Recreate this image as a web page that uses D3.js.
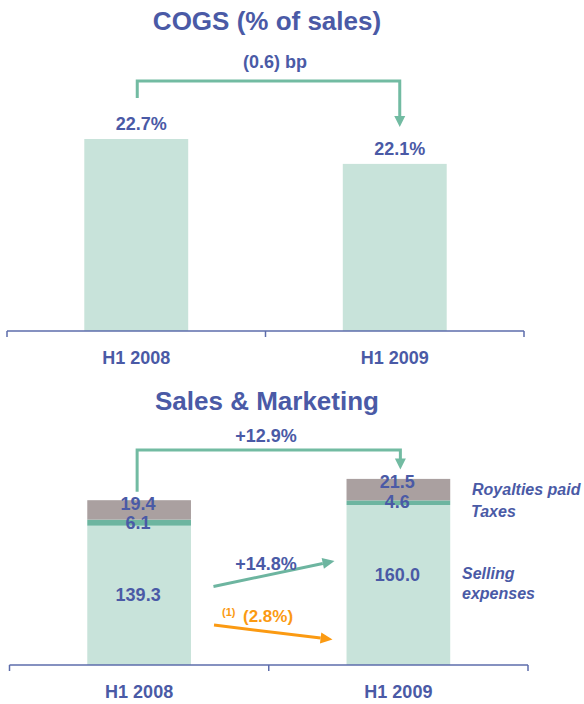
<!DOCTYPE html>
<html>
<head>
<meta charset="utf-8">
<script src="https://cdn.jsdelivr.net/npm/d3@7"></script>
<style>
  html, body { margin: 0; padding: 0; background: #ffffff; }
  svg { display: block; font-family: "Liberation Sans", Arial, sans-serif; }
</style>
</head>
<body>
<svg id="chart" width="584" height="704"></svg>
<script>
// ---- data ----
const periods = ["H1 2008", "H1 2009"];
const cogsPct = [22.7, 22.1];
const cogsChangeLabel = "(0.6) bp";

const sellingExpenses = [139.3, 160.0];
const taxes = [6.1, 4.6];
const royaltiesPaid = [19.4, 21.5];
const seriesNames = ["Selling expenses", "Taxes", "Royalties paid"];
const totalChangeLabel = "+12.9%";
const sellingChangeLabel = "+14.8%";
const adjustedChangeLabel = "(2.8%)";
const adjustedNote = "(1)";

// ---- styles ----
const BLUE = "#4a5aa6";
const LIGHT = "#c8e3da";
const TEAL = "#6db5a0";
const MAUVE = "#aaa0a0";
const BRACKET = "#72bba2";
const ORANGE = "#fb9a12";
const AXIS = "#5d6cab";

const svg = d3.select("#chart");

function drawCategoryAxis(g, x, yAxis) {
  const r = x.range();
  const step = x.step();
  // baseline
  g.append("line")
    .attr("x1", r[0]).attr("x2", r[1])
    .attr("y1", yAxis).attr("y2", yAxis)
    .attr("stroke", AXIS).attr("stroke-width", 1.5);
  // ticks at category boundaries
  const edges = d3.range(periods.length + 1).map(i => r[0] + i * step);
  g.selectAll(".edge").data(edges).join("line")
    .attr("x1", d => d).attr("x2", d => d)
    .attr("y1", yAxis).attr("y2", yAxis + 6)
    .attr("stroke", AXIS).attr("stroke-width", 1.5);
  // category labels
  const ax = g.append("g")
    .attr("transform", `translate(0,${yAxis})`)
    .call(d3.axisBottom(x).tickSize(0).tickPadding(20));
  ax.select(".domain").remove();
  ax.selectAll("text")
    .attr("fill", BLUE)
    .attr("font-size", 18)
    .attr("font-weight", "bold")
    .attr("font-family", "Liberation Sans, Arial, sans-serif");
}

function bracket(g, xa, ya, xb, yb, yTop) {
  g.append("path")
    .attr("d", `M${xa},${ya} V${yTop} H${xb} V${yb - 10}`)
    .attr("fill", "none").attr("stroke", BRACKET).attr("stroke-width", 3);
  g.append("path")
    .attr("d", `M${xb - 5.5},${yb - 11} L${xb + 5.5},${yb - 11} L${xb},${yb} Z`)
    .attr("fill", BRACKET);
}

function arrow(g, x1, y1, x2, y2, color) {
  const ang = Math.atan2(y2 - y1, x2 - x1);
  const len = 12, half = 5.5;
  const bx = x2 - len * Math.cos(ang), by = y2 - len * Math.sin(ang);
  g.append("line")
    .attr("x1", x1).attr("y1", y1).attr("x2", bx).attr("y2", by)
    .attr("stroke", color).attr("stroke-width", 3);
  const px = -Math.sin(ang) * half, py = Math.cos(ang) * half;
  g.append("path")
    .attr("d", `M${x2},${y2} L${bx + px},${by + py} L${bx - px},${by - py} Z`)
    .attr("fill", color);
}

function boldText(g, x, y, txt, size, color, anchor) {
  return g.append("text")
    .attr("x", x).attr("y", y)
    .attr("text-anchor", anchor || "middle")
    .attr("font-size", size).attr("font-weight", "bold")
    .attr("fill", color || BLUE)
    .text(txt);
}

// ================= COGS (% of sales) =================
const cogsG = svg.append("g");
boldText(cogsG, 267, 30, "COGS (% of sales)", 26);

const xTop = d3.scaleBand().domain(periods).range([7, 524])
  .paddingInner(0.598).paddingOuter(0.299);
const yTop = d3.scaleLinear().domain([18.07, 22.7]).range([331, 139]);

cogsG.selectAll(".cogs").data(periods).join("rect")
  .attr("x", d => xTop(d))
  .attr("width", xTop.bandwidth())
  .attr("y", (d, i) => yTop(cogsPct[i]))
  .attr("height", (d, i) => yTop.range()[0] - yTop(cogsPct[i]))
  .attr("fill", LIGHT);

periods.forEach((p, i) => {
  boldText(cogsG, xTop(p) + xTop.bandwidth() / 2 + 5, yTop(cogsPct[i]) - 9,
    cogsPct[i].toFixed(1) + "%", 18);
});

drawCategoryAxis(cogsG, xTop, 331);

{
  const c1 = xTop(periods[0]) + xTop.bandwidth() / 2 + 1;
  const c2 = xTop(periods[1]) + xTop.bandwidth() / 2 + 5;
  bracket(cogsG, c1, yTop(cogsPct[0]) - 41, c2, yTop(cogsPct[1]) - 37, 81);
  boldText(cogsG, 275, 68, cogsChangeLabel, 18);
}

// ================= Sales & Marketing =================
const smG = svg.append("g");
boldText(smG, 267, 410, "Sales & Marketing", 26);

const xBot = d3.scaleBand().domain(periods).range([9.5, 528])
  .paddingInner(0.6).paddingOuter(0.3);
const yBot = d3.scaleLinear().domain([0, 200]).range([665, 465]);

const rows = periods.map((p, i) => ({
  period: p,
  "Selling expenses": sellingExpenses[i],
  "Taxes": taxes[i],
  "Royalties paid": royaltiesPaid[i]
}));
const stacked = d3.stack().keys(seriesNames)(rows);
const colorOf = d3.scaleOrdinal().domain(seriesNames).range([LIGHT, TEAL, MAUVE]);

smG.selectAll(".layer").data(stacked).join("g")
  .attr("fill", d => colorOf(d.key))
  .selectAll("rect").data(d => d).join("rect")
  .attr("x", d => xBot(d.data.period))
  .attr("width", xBot.bandwidth())
  .attr("y", d => yBot(d[1]))
  .attr("height", d => yBot(d[0]) - yBot(d[1]));

drawCategoryAxis(smG, xBot, 665);

// segment value labels
const [selL, taxL, royL] = stacked;
periods.forEach((p, i) => {
  const cx = xBot(p) + xBot.bandwidth() / 2 - 1;
  boldText(smG, cx, yBot(selL[i][1]) + 75.5, sellingExpenses[i].toFixed(1), 18);
  boldText(smG, cx, yBot(taxL[i][0]) + 3, taxes[i].toFixed(1), 18);
  boldText(smG, cx, yBot(royL[i][1]) + 9.5, royaltiesPaid[i].toFixed(1), 18);
});

// series names at the right
function italicLabel(x, y, txt) {
  smG.append("text").attr("x", x).attr("y", y)
    .attr("font-size", 16).attr("font-weight", "bold").attr("font-style", "italic")
    .attr("fill", BLUE).text(txt);
}
italicLabel(472, 495, seriesNames[2]);
italicLabel(471, 517, seriesNames[1]);
italicLabel(462, 579, "Selling");
italicLabel(462, 599, "expenses");

// total change bracket
{
  const c1 = xBot(periods[0]) + xBot.bandwidth() / 2 - 2;
  const c2 = xBot(periods[1]) + xBot.bandwidth() / 2 + 2;
  bracket(smG, c1, yBot(royL[0][1]) - 8.5, c2, yBot(royL[1][1]) - 9.5, 450);
  boldText(smG, 266, 442, totalChangeLabel, 18);
}

// growth arrows between the bars
{
  const r1 = xBot(periods[0]) + xBot.bandwidth();
  const l2 = xBot(periods[1]);
  arrow(smG, r1 + 22.5, 586.5, l2 - 12, 561, TEAL);
  boldText(smG, 266, 570, sellingChangeLabel, 18);
  arrow(smG, r1 + 23, 625, l2 - 14, 639.5, ORANGE);
  boldText(smG, 243, 622, adjustedChangeLabel, 17, ORANGE, "start");
  boldText(smG, 222, 616, adjustedNote, 11, ORANGE, "start");
}
</script>
</body>
</html>
